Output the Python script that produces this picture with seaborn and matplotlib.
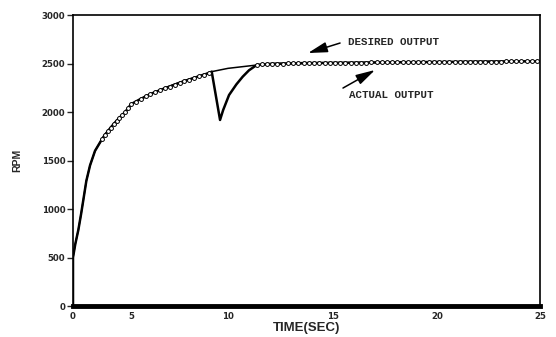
import numpy as np
import pandas as pd
import matplotlib
matplotlib.use("Agg")
import matplotlib.pyplot as plt
from matplotlib.scale import FuncScale
import seaborn as sns

# ---- data ----
x_ticks = [0, 5, 10, 15, 20, 25]
y_ticks = [0, 500, 1000, 1500, 2000, 2500, 3000]

time_desired = [0, 0.2, 0.46, 0.7, 0.89, 1.15, 1.47, 1.9, 2.5, 2.9, 3.5, 4.0, 4.5, 5.1, 6.0,
                6.86, 7.7, 8.56, 9.16, 10.0, 11.4, 13.0, 15.0, 18.0, 21.0, 25.0]
rpm_desired = [500, 640, 784, 950, 1093, 1290, 1450, 1600, 1720, 1790, 1875, 1940, 2000, 2090, 2185,
               2258, 2320, 2371, 2416, 2450, 2485, 2498, 2505, 2512, 2518, 2525]

time_actual = [0, 0, 0.2, 0.46, 0.7, 0.89, 1.15, 1.47, 1.9, 2.5, 2.75, 3.0, 3.25, 3.5, 3.75,
               4.0, 4.25, 4.5, 4.75, 5.0, 5.25, 5.5, 5.75, 6.0, 6.25, 6.5, 6.75, 7.0, 7.25,
               7.5, 7.75, 8.0, 8.25, 8.5, 8.75, 9.0, 9.16, 9.59, 9.75, 10.05, 10.4, 10.7,
               11.0, 11.37, 11.6, 11.85, 12.1, 12.35, 12.6, 12.85, 13.1, 13.35, 13.6, 13.85,
               14.1, 14.35, 14.6, 14.85, 15.1, 15.35, 15.6, 15.85, 16.1, 16.35, 16.6, 16.85,
               17.1, 17.35, 17.6, 17.85, 18.1, 18.35, 18.6, 18.85, 19.1, 19.35, 19.6, 19.85,
               20.1, 20.35, 20.6, 20.85, 21.1, 21.35, 21.6, 21.85, 22.1, 22.35, 22.6, 22.85,
               23.1, 23.35, 23.6, 23.85, 24.1, 24.35, 24.6, 24.85]
rpm_actual = [0, 500, 640, 784, 950, 1093, 1290, 1450, 1600, 1720, 1765, 1800, 1840, 1875, 1908,
              1940, 1970, 2000, 2040, 2080, 2108, 2135, 2160, 2185, 2205, 2225, 2245, 2262, 2282,
              2300, 2318, 2335, 2352, 2368, 2385, 2400, 2416, 1918, 2020, 2175, 2285, 2364,
              2430, 2485, 2490, 2494, 2497, 2499, 2500, 2501, 2502, 2503, 2504, 2505,
              2505, 2506, 2506, 2507, 2507, 2508, 2508, 2509, 2509, 2510, 2510, 2511,
              2511, 2512, 2512, 2513, 2513, 2513, 2514, 2514, 2515, 2515, 2515, 2516,
              2516, 2516, 2517, 2517, 2518, 2518, 2518, 2519, 2519, 2519, 2520, 2520,
              2520, 2521, 2521, 2522, 2522, 2522, 2523, 2523]

df_des = pd.DataFrame({"t": time_desired, "rpm": rpm_desired})
df_act = pd.DataFrame({"t": time_actual, "rpm": rpm_actual})

# ---- figure ----
sns.set_style("white")
plt.rcParams["font.family"] = ["DejaVu Sans"]

fig = plt.figure(figsize=(5.56, 3.37), dpi=100)
W, H = 556, 337
ax = fig.add_axes([73 / W, (H - 306) / H, (540 - 73) / W, (306 - 15) / H])

# piecewise-linear time axis as in the original plot
tick_px = [0, 58, 155, 260, 364, 467]
fwd = lambda x: np.interp(x, x_ticks, tick_px)
inv = lambda p: np.interp(p, tick_px, x_ticks)
ax.set_xscale(FuncScale(ax.xaxis, (fwd, inv)))

sns.lineplot(data=df_des, x="t", y="rpm", ax=ax, color="black", lw=1.1,
             sort=False, estimator=None)
marker_idx = [i for i, t in enumerate(time_actual) if (2.4 <= t <= 9.1) or t >= 11.3]
sns.lineplot(data=df_act, x="t", y="rpm", ax=ax, color="black", lw=1.8,
             sort=False, estimator=None, marker="o", markersize=2.8,
             markerfacecolor="white", markeredgecolor="black", markeredgewidth=0.7,
             markevery=marker_idx)

ax.set_xlim(0, 25)
ax.set_ylim(0, 3000)
ax.set_xticks(x_ticks)
ax.set_xticklabels([str(v) for v in x_ticks])
ax.set_yticks(y_ticks)
ax.set_yticklabels([str(v) for v in y_ticks])
ax.minorticks_off()

for lab in ax.get_xticklabels() + ax.get_yticklabels():
    lab.set_fontweight("bold")
    lab.set_fontsize(6.2)
ax.tick_params(axis="x", length=0, pad=4)
ax.tick_params(axis="y", length=4, width=1, pad=1.5, direction="out", left=True)

for s in ["top", "right", "left"]:
    ax.spines[s].set_linewidth(1.2)
    ax.spines[s].set_color("black")
ax.spines["bottom"].set_linewidth(3.5)
ax.spines["bottom"].set_color("black")

ax.set_xlabel("TIME(SEC)", fontsize=9.5, fontweight="bold", family="Liberation Sans")
ax.set_ylabel("RPM", fontsize=7.5, fontweight="bold", family="Liberation Sans")
ax.xaxis.set_label_coords(0.5, -0.056)
ax.yaxis.set_label_coords(-0.108, 0.5)

arrow_kw = dict(arrowstyle="-|>,head_length=1.3,head_width=0.35", color="black",
                lw=1.1, mutation_scale=9, shrinkA=0, shrinkB=0)
ax.annotate("", xy=(13.81, 2608), xytext=(15.34, 2711), arrowprops=arrow_kw)
ax.annotate("", xy=(17.02, 2433), xytext=(15.48, 2247), arrowprops=arrow_kw)
ax.text(15.72, 2725, "DESIRED OUTPUT", family="Liberation Mono", fontweight="bold",
        fontsize=7.8, ha="left", va="center")
ax.text(15.77, 2175, "ACTUAL OUTPUT", family="Liberation Mono", fontweight="bold",
        fontsize=7.8, ha="left", va="center")

fig.savefig("out.png", dpi=100)
